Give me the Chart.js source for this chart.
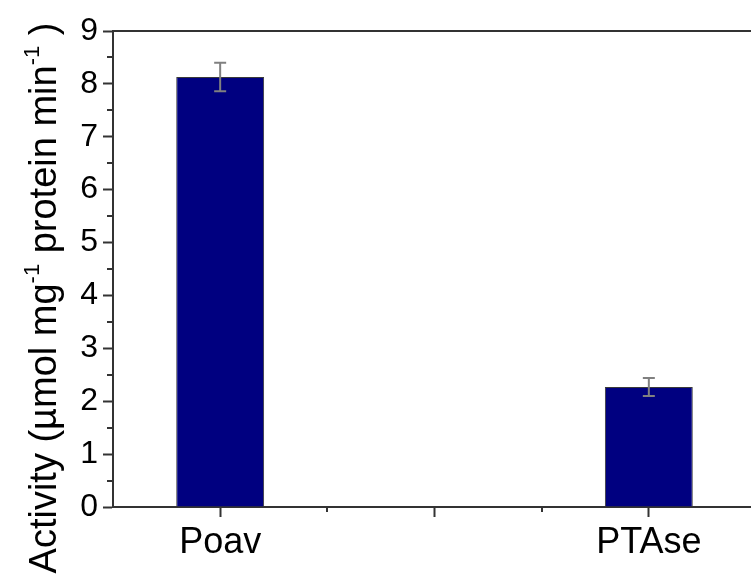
<!DOCTYPE html>
<html>
<head>
<meta charset="utf-8">
<script src="https://cdn.jsdelivr.net/npm/chart.js@4/dist/chart.umd.min.js"></script>
<style>
  html, body { margin: 0; padding: 0; background: #fff; overflow: hidden; }
  #wrap { width: 756px; height: 577px; }
</style>
</head>
<body>
<div id="wrap"><canvas id="chart"></canvas></div>
<script>
var categories = ["Poav", "", "PTAse"];
var activity = [8.13, null, 2.27];
var activityErr = [0.27, null, 0.17];
var yMin = 0;
var yMax = 9;
var titleParts = [
  { text: "Activity (\u00b5mol mg", sup: false },
  { text: "-1", sup: true },
  { text: " protein min", sup: false },
  { text: "-1", sup: true },
  { text: " )", sup: false },
];

var axisColor = "#333333";
var fontFamily = "'Liberation Sans', Arial, sans-serif";

// error bars, minor ticks, top frame and rotated title with superscripts
var extras = {
  id: "extras",
  afterDatasetsDraw: function (chart) {
    var ctx = chart.ctx;
    var meta = chart.getDatasetMeta(0);
    var ys = chart.scales.y;
    ctx.save();
    ctx.strokeStyle = "#808080";
    ctx.lineWidth = 2;
    for (var i = 0; i < activity.length; i++) {
      if (activity[i] == null) continue;
      var x = meta.data[i].x;
      var top = ys.getPixelForValue(activity[i] + activityErr[i]);
      var bot = ys.getPixelForValue(activity[i] - activityErr[i]);
      ctx.beginPath();
      ctx.moveTo(x, top); ctx.lineTo(x, bot);
      ctx.moveTo(x - 6, top); ctx.lineTo(x + 6, top);
      ctx.moveTo(x - 6, bot); ctx.lineTo(x + 6, bot);
      ctx.stroke();
    }
    ctx.restore();
  },
  afterDraw: function (chart) {
    var ctx = chart.ctx;
    var area = chart.chartArea;
    var xs = chart.scales.x;
    var ys = chart.scales.y;
    ctx.save();
    ctx.strokeStyle = axisColor;
    ctx.lineWidth = 2;
    // top frame
    ctx.beginPath();
    ctx.moveTo(area.left, area.top);
    ctx.lineTo(area.right, area.top);
    ctx.stroke();
    // y minor ticks
    ctx.beginPath();
    for (var v = yMin + 0.5; v < yMax; v += 1) {
      var py = Math.round(ys.getPixelForValue(v));
      ctx.moveTo(area.left - 6, py);
      ctx.lineTo(area.left, py);
    }
    // x minor ticks between categories
    for (var i = 0; i < categories.length; i++) {
      var px = Math.round(xs.getPixelForValue(i + 0.5));
      if (px > area.right - 1) continue;
      ctx.moveTo(px, area.bottom);
      ctx.lineTo(px, area.bottom + 5);
    }
    ctx.stroke();

    // y title
    ctx.fillStyle = "#000";
    ctx.textBaseline = "alphabetic";
    var big = "38px " + fontFamily;
    var small = "22px " + fontFamily;
    var total = 0;
    for (var k = 0; k < titleParts.length; k++) {
      ctx.font = titleParts[k].sup ? small : big;
      total += ctx.measureText(titleParts[k].text).width;
    }
    ctx.translate(56, 298);
    ctx.rotate(-Math.PI / 2);
    var cx = -total / 2;
    for (var m = 0; m < titleParts.length; m++) {
      var p = titleParts[m];
      ctx.font = p.sup ? small : big;
      ctx.fillText(p.text, cx, p.sup ? -17 : 0);
      cx += ctx.measureText(p.text).width;
    }
    ctx.restore();
  },
};

new Chart(document.getElementById("chart"), {
  type: "bar",
  data: {
    labels: categories,
    datasets: [
      {
        data: activity,
        backgroundColor: "#000080",
        borderColor: "#3a3a3a",
        borderWidth: 1,
        barPercentage: 0.41,
        categoryPercentage: 1,
      },
    ],
  },
  options: {
    responsive: true,
    maintainAspectRatio: false,
    animation: false,
    layout: { padding: { top: 31, right: 0, left: 0, bottom: 0 } },
    plugins: {
      legend: { display: false },
      tooltip: { enabled: false },
    },
    scales: {
      x: {
        offset: true,
        grid: {
          offset: false,
          drawOnChartArea: false,
          drawTicks: true,
          tickLength: 10,
          tickColor: axisColor,
          tickWidth: 2,
        },
        border: { display: true, color: axisColor, width: 2 },
        ticks: {
          color: "#000",
          padding: 4,
          maxRotation: 0,
          font: { family: fontFamily, size: 36 },
        },
        afterFit: function (scale) { scale.height = 70; },
      },
      y: {
        min: yMin,
        max: yMax,
        grid: {
          drawOnChartArea: false,
          drawTicks: true,
          tickLength: 10,
          tickColor: axisColor,
          tickWidth: 2,
        },
        border: { display: true, color: axisColor, width: 2 },
        ticks: {
          stepSize: 1,
          color: "#000",
          padding: 5,
          font: { family: fontFamily, size: 32 },
        },
        afterFit: function (scale) { scale.width = 113; },
      },
    },
  },
  plugins: [extras],
});
</script>
</body>
</html>
